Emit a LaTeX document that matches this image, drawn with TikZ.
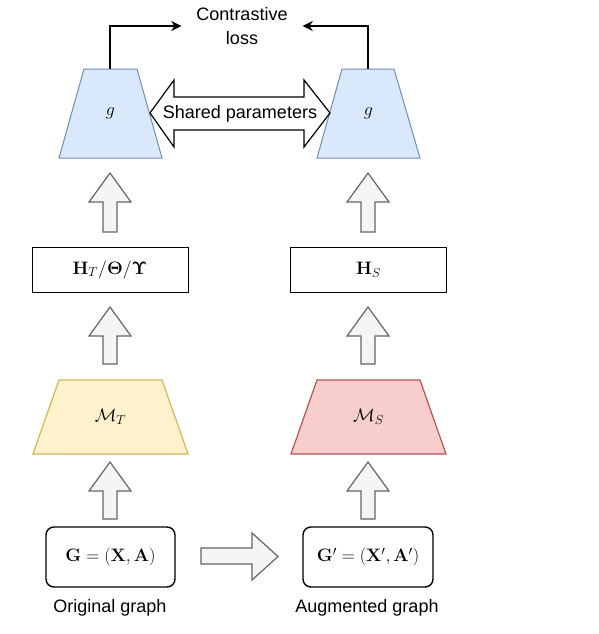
\RequirePackage{fix-cm}
\documentclass[tikz,border=0pt]{standalone}
\usepackage{amsmath}
\usepackage[no-math]{fontspec}
\setmainfont{Liberation Sans}
\usetikzlibrary{arrows.meta}
\definecolor{bfill}{HTML}{DAE8FC}\definecolor{bline}{HTML}{6C8EBF}
\definecolor{yfill}{HTML}{FFF2CC}\definecolor{yline}{HTML}{D6B656}
\definecolor{rfill}{HTML}{F8CECC}\definecolor{rline}{HTML}{B85450}
\definecolor{gfill}{HTML}{F5F5F5}\definecolor{gline}{HTML}{666666}
\DeclareMathSizes{18}{18}{13}{10}
\newcommand{\blkup}[3]{%
  \draw[blk] (#1,#2) -- ({#1+21},{#2+29}) -- ({#1+7},{#2+29}) -- ({#1+7},#3)
    -- ({#1-7},#3) -- ({#1-7},{#2+29}) -- ({#1-21},{#2+29}) -- cycle;}
\begin{document}
\begin{tikzpicture}[x=1pt,y=-1pt,
  every node/.style={font=\fontsize{18}{24}\selectfont},
  blk/.style={fill=gfill,draw=gline,line width=1.2pt,line join=miter},
  hbox/.style={draw=black,line width=1pt,minimum width=156pt,minimum height=45pt,inner sep=0pt},
  gbox/.style={draw=black,line width=1.4pt,rounded corners=8pt,minimum height=60pt,inner sep=0pt},
  gtrap/.style={fill=bfill,draw=bline,line width=1pt},
  ytrap/.style={fill=yfill,draw=yline,line width=1.2pt},
  rtrap/.style={fill=rfill,draw=rline,line width=1.2pt},
  conn/.style={draw=black,line width=1.2pt,-{Stealth[length=10pt,width=10pt,inset=3pt]}}]
\useasboundingbox (0,0) rectangle (598,634);
% g trapezoids
\draw[gtrap] (84,69) -- (137,69) -- (162,158) -- (59,158) -- cycle;
\draw[gtrap] (342,69) -- (394,69) -- (420,158) -- (317,158) -- cycle;
\node (gl) at (110.5,113.5) {$g$};
\node (gr) at (368.5,113.5) {$g$};
\coordinate (gltop) at (110,69);
\coordinate (grtop) at (368,69);
% contrastive loss
\node[align=center,inner sep=0pt] (loss) at (242,26) {Contrastive\\loss};
\draw[conn] (gltop) |- ([xshift=-15pt]loss.west);
\draw[conn] (grtop) |- ([xshift=15pt]loss.east);
% shared parameters double arrow
\draw[fill=white,draw=black,line width=1.2pt,line join=miter]
  (150,113) -- (174,80) -- (174,97) -- (304,97) -- (304,80) -- (330,113)
  -- (304,147) -- (304,130) -- (174,130) -- (174,147) -- cycle;
\node (shared) at (240,114) {Shared parameters};
% H boxes
\node[hbox] (ht) at (110,269.5) {$\mathbf{H}_T/\mathbf{\Theta}/\mathbf{\Upsilon}$};
\node[hbox] (hs) at (368.5,269.5) {$\mathbf{H}_S$};
% M trapezoids
\draw[ytrap] (59,380) -- (162,380) -- (188,454) -- (33,454) -- cycle;
\draw[rtrap] (317,380) -- (420,380) -- (446,454) -- (291,454) -- cycle;
\node (mt) at (110.5,417) {$\mathcal{M}_T$};
\node (ms) at (368.5,417) {$\mathcal{M}_S$};
% graph boxes
\node[gbox,minimum width=129pt] (g) at (110.5,557) {$\mathbf{G}=(\mathbf{X},\mathbf{A})$};
\node[gbox,minimum width=130pt] (gp) at (368,557) {$\mathbf{G}'=(\mathbf{X}',\mathbf{A}')$};
\node (orig) at (110,608) {Original graph};
\node (aug) at (367,608) {Augmented graph};
% block arrows
\blkup{110}{173}{232}
\blkup{368}{173}{232}
\blkup{110}{307}{364}
\blkup{368}{307}{364}
\blkup{110}{462}{519}
\blkup{368}{462}{519}
\draw[blk] (201,548) -- (252,548) -- (252,533) -- (278,556.5) -- (252,580)
  -- (252,564) -- (201,564) -- cycle;
\end{tikzpicture}
\end{document}
